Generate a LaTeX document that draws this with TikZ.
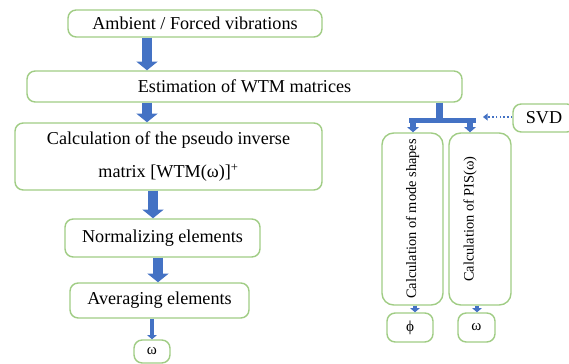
\documentclass[tikz,border=0pt]{standalone}
\usepackage{fontspec}
\setmainfont{Liberation Serif}
\usepackage{graphicx}
\usetikzlibrary{arrows.meta}
\definecolor{boxgreen}{RGB}{160,204,132}
\definecolor{flowblue}{RGB}{68,114,196}

\begin{document}
\begin{tikzpicture}[
    box/.style={draw=boxgreen, line width=1.2pt, rounded corners=7pt, inner sep=0pt, font=\fontsize{15.5}{28}\selectfont},
    tallbox/.style={box, rounded corners=10pt, font=\fontsize{12.3}{15}\selectfont},
    flow/.style={draw=flowblue, line width=8.5pt, -{Triangle[width=18pt,length=7.5pt]}},
    smallflow/.style={draw=flowblue, line width=4.5pt, -{Triangle[width=10pt,length=4.5pt]}},
    tinyflow/.style={draw=flowblue, line width=3.5pt, -{Triangle[width=8pt,length=3.5pt]}},
    hint/.style={draw=flowblue, line width=1.2pt, dotted, -{Triangle[width=6pt,length=4pt]}}
]
    \path[use as bounding box, clip] (0,0) rectangle (17.07,10.92);
    \node[box, minimum width=7.62cm, minimum height=0.81cm] at (5.85,10.215) (a41c07e2) {Ambient / Forced vibrations};
    \node[box, minimum width=13.05cm, minimum height=0.93cm] at (7.335,8.325) (5f2b9d10) {Estimation of WTM matrices};
    \node[box, minimum width=9.21cm, minimum height=2.01cm, align=center] at (5.055,6.225) (c83e61fa) {Calculation of the pseudo inverse\\matrix [WTM(ω)]\textsuperscript{+}};
    \node[box, minimum width=5.85cm, minimum height=1.14cm] at (4.875,3.78) (09d4ab37) {Normalizing elements};
    \node[box, minimum width=5.37cm, minimum height=1.05cm] at (4.785,1.905) (e6f0325c) {Averaging elements};
    \node[box, minimum width=1.08cm, minimum height=0.69cm, font=\fontsize{13}{15}\selectfont] at (4.56,0.375) (7b19e4d8) {ω};
    \node[tallbox, minimum width=1.83cm, minimum height=5.16cm] at (12.375,4.35) (3ad85c61) {\rotatebox{90}{Calculation of mode shapes}};
    \node[tallbox, minimum width=1.86cm, minimum height=5.16cm] at (14.4,4.35) (d25e7f04) {\rotatebox{90}{Calculation of PIS(ω)}\hspace{0.6cm}\null};
    \node[box, minimum width=1.86cm, minimum height=0.84cm] at (16.32,7.38) (8ce4a291) {SVD};
    \node[box, minimum width=1.38cm, minimum height=0.87cm, font=\fontsize{13}{15}\selectfont] at (12.3,1.095) (f07a3b95) {ϕ};
    \node[box, minimum width=1.11cm, minimum height=0.87cm, font=\fontsize{13}{15}\selectfont] at (14.295,1.095) (1e9c5da3) {ω};
    \coordinate (b4f2c0e7) at (13.185,7.305);
    \coordinate (62ad1f8b) at (14.49,7.41);
    % left column
    \draw[flow] (a41c07e2.south -| 4.41,0) -- (5f2b9d10.north -| 4.41,0);
    \draw[flow] (5f2b9d10.south -| 4.41,0) -- (c83e61fa.north -| 4.41,0);
    \draw[flow] (c83e61fa.south -| 4.59,0) -- (09d4ab37.north -| 4.59,0);
    \draw[flow] (09d4ab37.south -| 4.74,0) -- (e6f0325c.north -| 4.74,0);
    \draw[tinyflow] (e6f0325c.south -| 4.56,0) -- (7b19e4d8.north -| 4.56,0);
    % right column
    \draw[flowblue, line width=6pt] (5f2b9d10.south -| b4f2c0e7) -- (b4f2c0e7);
    \draw[flowblue, line width=4.5pt] (12.27,7.305) -- (14.28,7.305);
    \draw[smallflow] (b4f2c0e7 -| 12.39,0) -- (3ad85c61.north -| 12.39,0);
    \draw[smallflow] (b4f2c0e7 -| 14.1,0) -- (d25e7f04.north -| 14.1,0);
    \draw[tinyflow] (3ad85c61.south -| 12.45,0) -- (f07a3b95.north -| 12.45,0);
    \draw[tinyflow] (d25e7f04.south -| 14.31,0) -- (1e9c5da3.north -| 14.31,0);
    \draw[hint] (8ce4a291.west |- 62ad1f8b) -- (62ad1f8b);
\end{tikzpicture}
\end{document}
